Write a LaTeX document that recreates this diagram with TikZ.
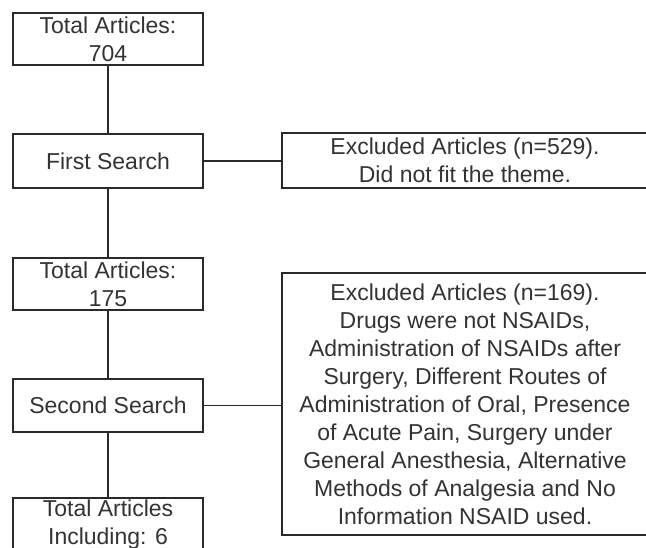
\documentclass[tikz,border=0pt]{standalone}
\usepackage{fontspec}
\setmainfont{Liberation Sans}
\definecolor{ink}{HTML}{2A2A2A}
\definecolor{txt}{HTML}{333333}
\begin{document}
\begin{tikzpicture}[x=1pt,y=1pt,
  box/.style={draw=ink, line width=1.4pt, inner sep=0pt, align=center,
    text=txt, font=\fontsize{23}{28}\selectfont},
  lbox/.style={box, minimum width=190pt},
  rbox/.style={box, minimum width=366pt},
  conn/.style={draw=ink, line width=1.4pt}]
\useasboundingbox (0,0) rectangle (646,-548);
\node[lbox, minimum height=52pt] (b1) at (108,-39) {Total Articles:\\704};
\node[lbox, minimum height=54pt] (fs) at (108,-161) {First Search};
\node[lbox, minimum height=52pt] (b2) at (108,-284) {Total Articles:\\175};
\node[lbox, minimum height=53pt] (ss) at (108,-405.5) {Second Search};
\node[lbox, minimum height=54pt] (b3) at (108,-525) {Total Articles\\Including: 6};
\node[rbox, minimum height=55pt] (e1) at (465,-160.5) {Excluded Articles (n=529).\\Did not fit the theme.};
\node[rbox, minimum height=262pt] (e2) at (465,-404) {Excluded Articles (n=169).\\Drugs were not NSAIDs,\\Administration of NSAIDs after\\Surgery, Different Routes of\\Administration of Oral, Presence\\of Acute Pain, Surgery under\\General Anesthesia, Alternative\\Methods of Analgesia and No\\Information NSAID used.};
\draw[conn] (b1.south) -- (fs.north);
\draw[conn] (fs.south) -- (b2.north);
\draw[conn] (b2.south) -- (ss.north);
\draw[conn] (ss.south) -- (b3.north);
\draw[conn] (fs.east) -- (fs.east -| e1.west);
\draw[conn] (ss.east) -- (ss.east -| e2.west);
\end{tikzpicture}
\end{document}
